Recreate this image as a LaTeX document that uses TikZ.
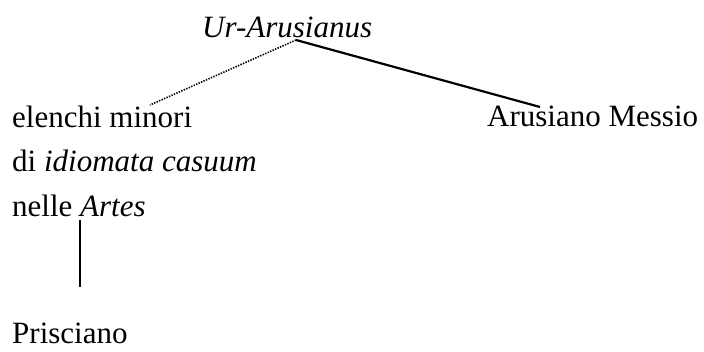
\documentclass[tikz,border=0pt]{standalone}
\usepackage{fontspec}
\setmainfont{Liberation Serif}
\usetikzlibrary{calc}
\begin{document}
\begin{tikzpicture}[x=1pt,y=1pt,
  lbl/.style={inner sep=0pt,anchor=base west,font=\fontsize{31}{38}\selectfont},
  solidline/.style={line width=2.2pt},
  dotline/.style={line width=1.6pt,dash pattern=on 1.4pt off 1.3pt}]
\useasboundingbox (0,0) rectangle (704,351);
\node[lbl] (ur) at (202,313) {\itshape Ur-Arusianus};
\node[lbl] (e1) at (12,223) {elenchi minori};
\node[lbl] (e2) at (12,179) {di \textit{idiomata casuum}};
\node[lbl] (e3) at (12,134) {nelle \textit{Artes}};
\node[lbl] (am) at (487,224) {Arusiano Messio};
\node[lbl] (pr) at (12,8) {Prisciano};
\coordinate (j) at ($(ur.base west)+(94,-2)$);
\coordinate (d) at ($(e1.base west)+(138,23)$);
\coordinate (s) at ($(am.base west)+(53,20)$);
\draw[dotline] (j) -- (d);
\draw[solidline] (j) -- (s);
\draw[solidline] ($(e3.base west)+(68,-3)$) -- ($(pr.base west)+(68,56)$);
\end{tikzpicture}
\end{document}
